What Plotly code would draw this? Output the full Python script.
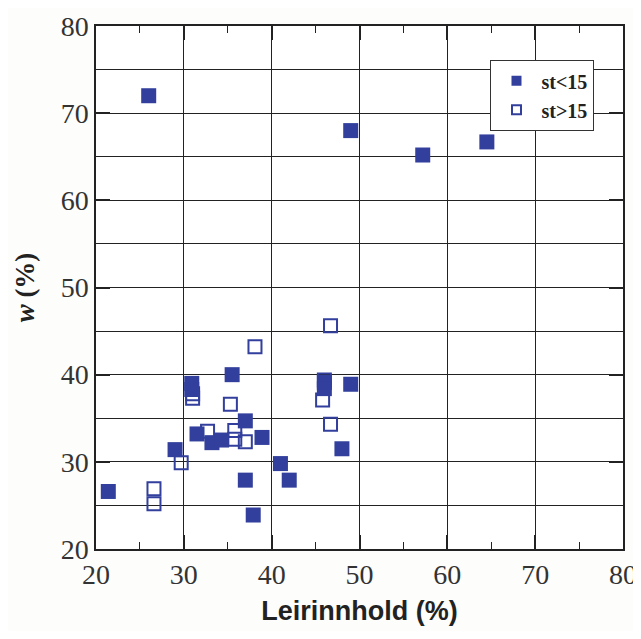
import plotly.graph_objects as go

# Data (Leirinnhold %, w %)
filled_x = [26.0, 49.0, 57.2, 64.5, 21.4, 29.0, 30.9, 30.9, 35.5, 37.0, 38.9,
            31.5, 33.2, 34.3, 37.0, 37.9, 41.0, 42.0, 46.0, 46.0, 49.0, 48.0]
filled_y = [72.0, 68.0, 65.2, 66.7, 26.6, 31.4, 39.0, 38.3, 40.0, 34.7, 32.8,
            33.2, 32.2, 32.5, 27.9, 23.9, 29.8, 27.9, 39.1, 38.4, 38.9, 31.5]

open_x = [26.6, 26.6, 29.7, 31.0, 31.0, 38.1, 35.3, 32.7, 35.8, 35.8, 37.0,
          46.7, 46.0, 45.8, 46.7]
open_y = [26.9, 25.2, 29.9, 37.8, 37.3, 43.2, 36.6, 33.5, 33.6, 32.6, 32.3,
          45.6, 39.4, 37.1, 34.3]

blue = "#323F9C"

fig = go.Figure()

fig.add_trace(go.Scatter(
    x=open_x, y=open_y, mode="markers", name="st>15", showlegend=False,
    marker=dict(symbol="square-open", size=13, color=blue,
                line=dict(width=2, color=blue)),
))
fig.add_trace(go.Scatter(
    x=filled_x, y=filled_y, mode="markers", name="st<15", showlegend=False,
    marker=dict(symbol="square", size=15, color=blue, line=dict(width=0)),
))

# legend entries with smaller symbols, as in the original
fig.add_trace(go.Scatter(
    x=[None], y=[None], mode="markers", name="<b>st<15</b>",
    marker=dict(symbol="square", size=10, color=blue, line=dict(width=0)),
))
fig.add_trace(go.Scatter(
    x=[None], y=[None], mode="markers", name="<b>st>15</b>",
    marker=dict(symbol="square-open", size=9, color=blue,
                line=dict(width=2, color=blue)),
))

axis_common = dict(
    range=[20, 80], dtick=10, tick0=20, automargin=False,
    showgrid=True, gridcolor="#222222", gridwidth=1.3,
    showline=True, linecolor="#222222", linewidth=1.5, mirror="ticks",
    ticks="inside", ticklen=14, tickcolor="#222222", tickwidth=1.5,
    zeroline=False, ticklabeloverflow="allow",
    tickfont=dict(family="Liberation Serif", size=28, color="#333333"),
)

fig.update_xaxes(
    **axis_common,
    minor=dict(dtick=5, ticks="inside", ticklen=7, tickcolor="#222222",
               tickwidth=1.3, showgrid=False),
    title=dict(text="<b>Leirinnhold (%)</b>", standoff=12,
               font=dict(family="Liberation Sans", size=27, color="#222222")),
)
fig.update_yaxes(
    **axis_common,
    minor=dict(dtick=5, ticks="", showgrid=True, gridcolor="#222222",
               gridwidth=1.3),
    title=dict(text="<b><i>w</i> (%)</b>", standoff=18,
               font=dict(family="Liberation Serif", size=27, color="#222222")),
)

# the page body adds 8px around the figure, so the figure is a bit smaller
fig.update_layout(
    width=633, height=623,
    margin=dict(l=88, r=18, t=18, b=82),
    paper_bgcolor="#FDFDFB", plot_bgcolor="#FFFFFF",
    showlegend=True,
    legend=dict(
        x=0.748, y=0.935, xanchor="left", yanchor="top",
        bgcolor="#FFFFFF", bordercolor="#333333", borderwidth=1.3,
        font=dict(family="Liberation Serif", size=20, color="#222222"),
        itemwidth=40, tracegroupgap=0,
    ),
)

fig.write_html("out.html")
